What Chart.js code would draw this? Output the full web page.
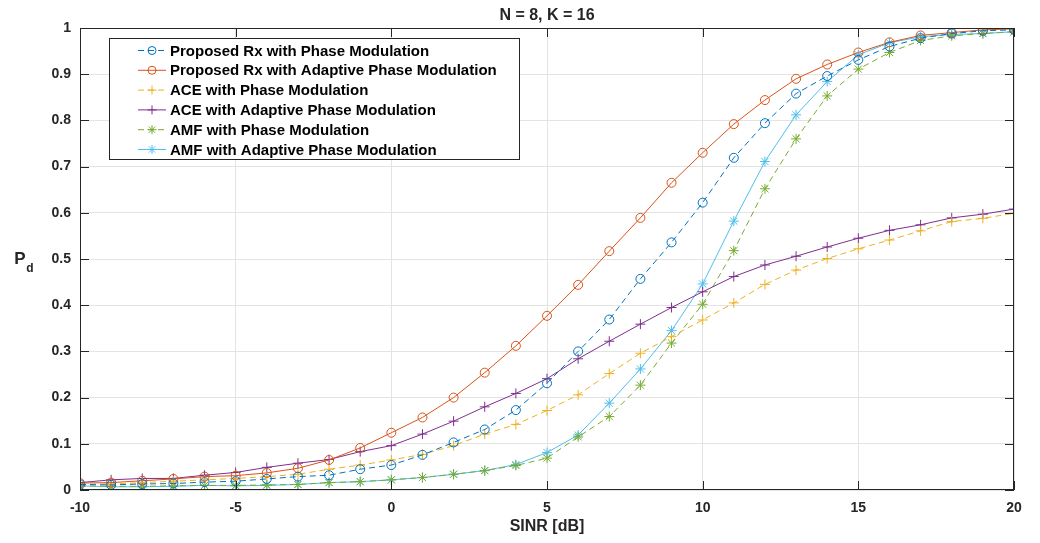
<!DOCTYPE html>
<html>
<head>
<meta charset="utf-8">
<script src="https://cdn.jsdelivr.net/npm/chart.js@4.4.1/dist/chart.umd.min.js"></script>
<style>
  body { margin: 0; background: #fff; }
  #wrap { width: 1040px; height: 543px; }
</style>
</head>
<body>
<div id="wrap"><canvas id="pdChart" width="1040" height="543"></canvas></div>
<script>
// SINR axis, -10..20 dB
const sinr = [-10, -9, -8, -7, -6, -5, -4, -3, -2, -1, 0, 1, 2, 3, 4, 5, 6, 7, 8, 9, 10,
  11, 12, 13, 14, 15, 16, 17, 18, 19, 20];

const proposedPM = [0.012, 0.011, 0.013, 0.014, 0.017, 0.019, 0.024, 0.029, 0.032, 0.045, 0.054,
  0.076, 0.103, 0.131, 0.173, 0.231, 0.300, 0.369, 0.457, 0.536, 0.622,
  0.719, 0.794, 0.858, 0.896, 0.931, 0.960, 0.978, 0.988, 0.994, 0.996];
const proposedAPM = [0.015, 0.016, 0.020, 0.024, 0.029, 0.031, 0.037, 0.047, 0.065, 0.091, 0.124,
  0.157, 0.200, 0.254, 0.312, 0.377, 0.444, 0.517, 0.589, 0.665, 0.730,
  0.792, 0.844, 0.890, 0.921, 0.947, 0.969, 0.984, 0.990, 0.996, 0.998];
const acePM = [0.012, 0.013, 0.016, 0.019, 0.022, 0.025, 0.029, 0.034, 0.045, 0.054, 0.065,
  0.077, 0.096, 0.121, 0.142, 0.172, 0.206, 0.252, 0.296, 0.332, 0.368,
  0.405, 0.445, 0.476, 0.501, 0.522, 0.541, 0.561, 0.581, 0.588, 0.599];
const aceAPM = [0.016, 0.022, 0.025, 0.025, 0.032, 0.038, 0.049, 0.058, 0.066, 0.083, 0.096,
  0.121, 0.149, 0.180, 0.209, 0.241, 0.284, 0.322, 0.359, 0.395, 0.429,
  0.462, 0.487, 0.506, 0.526, 0.545, 0.562, 0.574, 0.589, 0.597, 0.608];
const amfPM = [0.009, 0.008, 0.008, 0.009, 0.010, 0.010, 0.011, 0.012, 0.016, 0.018, 0.022,
  0.027, 0.034, 0.042, 0.053, 0.069, 0.115, 0.159, 0.227, 0.318, 0.402,
  0.518, 0.652, 0.760, 0.853, 0.911, 0.947, 0.973, 0.983, 0.988, 0.992];
const amfAPM = [0.009, 0.007, 0.007, 0.008, 0.010, 0.009, 0.010, 0.012, 0.016, 0.018, 0.022,
  0.027, 0.034, 0.042, 0.055, 0.081, 0.119, 0.188, 0.262, 0.345, 0.446,
  0.582, 0.711, 0.812, 0.884, 0.942, 0.968, 0.981, 0.986, 0.988, 0.992];

const xTicks = [-10, -5, 0, 5, 10, 15, 20];
const yTicks = [0, 0.1, 0.2, 0.3, 0.4, 0.5, 0.6, 0.7, 0.8, 0.9, 1];

const FONT = "'Liberation Sans', Arial, Helvetica, sans-serif";
const AXIS_COLOR = "#262626";

function makeSeries(label, values, color, dashed, marker) {
  return {
    label: label,
    data: sinr.map((x, i) => ({ x: x, y: values[i] })),
    borderColor: color,
    backgroundColor: color,
    borderWidth: 1,
    borderDash: dashed ? [6, 4] : [],
    pointStyle: marker,
    pointRadius: marker === "circle" ? 4.5 : 5,
    pointBorderWidth: 1,
    pointBackgroundColor: "rgba(0,0,0,0)",
    pointBorderColor: color,
    tension: 0,
    fill: false,
  };
}

const datasets = [
  makeSeries("Proposed Rx with Phase Modulation", proposedPM, "#0072BD", true, "circle"),
  makeSeries("Proposed Rx with Adaptive Phase Modulation", proposedAPM, "#D95319", false, "circle"),
  makeSeries("ACE with Phase Modulation", acePM, "#EDB120", true, "cross"),
  makeSeries("ACE with Adaptive Phase Modulation", aceAPM, "#7E2F8E", false, "cross"),
  makeSeries("AMF with Phase Modulation", amfPM, "#77AC30", true, "star"),
  makeSeries("AMF with Adaptive Phase Modulation", amfAPM, "#4DBEEE", false, "star"),
];

// axes box, inward ticks, labels, legend (matlab look)
const decorPlugin = {
  id: "decor",
  afterDatasetsDraw(chart) {
    const ctx = chart.ctx;
    const area = chart.chartArea;
    const xs = chart.scales.x;
    const ys = chart.scales.y;
    ctx.save();

    ctx.strokeStyle = AXIS_COLOR;
    ctx.lineWidth = 1;
    ctx.setLineDash([]);
    ctx.strokeRect(area.left + 0.5, area.top + 0.5, area.right - area.left - 1, area.bottom - area.top - 1);

    const tl = 9;
    ctx.beginPath();
    xTicks.forEach((t) => {
      const px = Math.round(xs.getPixelForValue(t)) + 0.5;
      ctx.moveTo(px, area.bottom);
      ctx.lineTo(px, area.bottom - tl);
      ctx.moveTo(px, area.top);
      ctx.lineTo(px, area.top + tl);
    });
    yTicks.forEach((t) => {
      const py = Math.round(ys.getPixelForValue(t)) + 0.5;
      ctx.moveTo(area.left, py);
      ctx.lineTo(area.left + tl, py);
      ctx.moveTo(area.right, py);
      ctx.lineTo(area.right - tl, py);
    });
    ctx.stroke();

    // title and axis labels
    ctx.fillStyle = AXIS_COLOR;
    ctx.textAlign = "center";
    ctx.textBaseline = "middle";
    ctx.font = "bold 16px " + FONT;
    const midX = (area.left + area.right) / 2;
    ctx.fillText("N = 8, K = 16", midX, 16);
    ctx.fillText("SINR [dB]", midX, 527);
    ctx.font = "bold 17px " + FONT;
    ctx.fillText("P", 20, 259);
    ctx.font = "bold 12px " + FONT;
    ctx.fillText("d", 30, 269);

    // legend
    const lx = 109, ly = 38, lw = 410, lh = 121;
    ctx.fillStyle = "#fff";
    ctx.fillRect(lx, ly, lw, lh);
    ctx.strokeStyle = AXIS_COLOR;
    ctx.strokeRect(lx + 0.5, ly + 0.5, lw, lh);
    chart.data.datasets.forEach((ds, i) => {
      const y = 50.5 + i * 19.8;
      ctx.strokeStyle = ds.borderColor;
      ctx.lineWidth = 1;
      ctx.setLineDash(ds.borderDash);
      ctx.beginPath();
      ctx.moveTo(138, y);
      ctx.lineTo(166, y);
      ctx.stroke();
      ctx.setLineDash([]);
      ctx.fillStyle = "rgba(0,0,0,0)";
      Chart.helpers.drawPoint(ctx, {
        pointStyle: ds.pointStyle,
        radius: ds.pointStyle === "circle" ? 4 : 4.5,
        borderWidth: 1,
        rotation: 0,
      }, 152, y);
      ctx.fillStyle = "#000";
      ctx.textAlign = "left";
      ctx.font = "bold 15px " + FONT;
      ctx.fillText(ds.label, 170, y + 1);
    });

    ctx.restore();
  },
};

const ctx = document.getElementById("pdChart").getContext("2d");
new Chart(ctx, {
  type: "line",
  data: { datasets: datasets },
  options: {
    responsive: false,
    animation: false,
    layout: { padding: { left: 0, right: 26, top: 28, bottom: 0 } },
    plugins: {
      legend: { display: false },
      title: { display: false },
      tooltip: { enabled: false },
    },
    scales: {
      x: {
        type: "linear",
        min: -10,
        max: 20,
        afterBuildTicks: (scale) => { scale.ticks = xTicks.map((v) => ({ value: v })); },
        afterFit: (scale) => { scale.height = 53; },
        grid: { color: "#e3e3e3", drawTicks: false },
        border: { display: false },
        ticks: {
          padding: 10,
          color: AXIS_COLOR,
          font: { family: FONT, size: 14, weight: "bold" },
          callback: (v) => String(v),
        },
      },
      y: {
        min: 0,
        max: 1,
        afterBuildTicks: (scale) => { scale.ticks = yTicks.map((v) => ({ value: v })); },
        afterFit: (scale) => { scale.width = 80; },
        grid: { color: "#e3e3e3", drawTicks: false },
        border: { display: false },
        ticks: {
          padding: 9,
          color: AXIS_COLOR,
          font: { family: FONT, size: 14, weight: "bold" },
          callback: (v) => String(Math.round(v * 10) / 10),
        },
      },
    },
  },
  plugins: [decorPlugin],
});
</script>
</body>
</html>
